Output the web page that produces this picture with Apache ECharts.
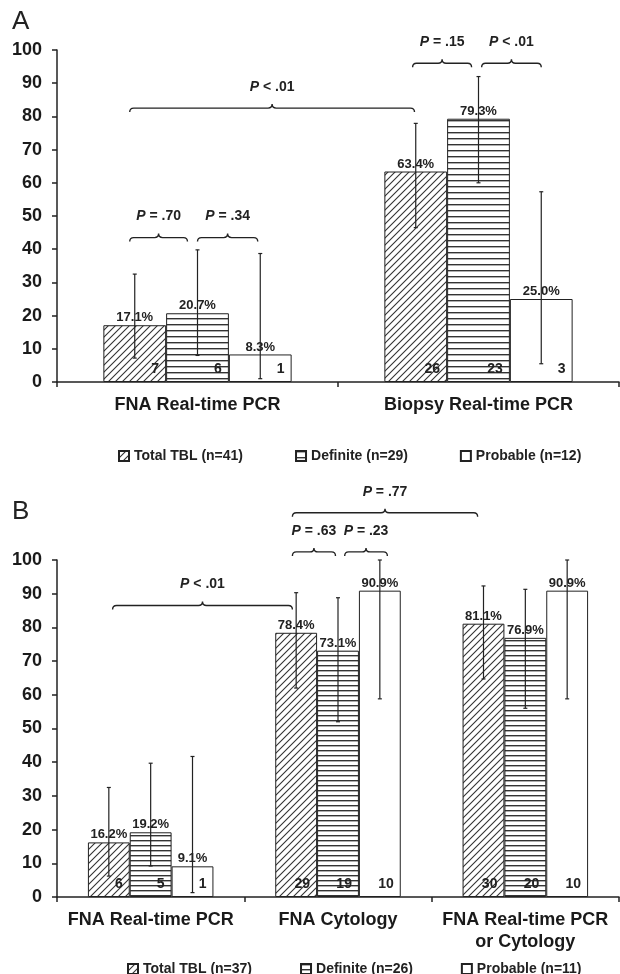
<!DOCTYPE html>
<html>
<head>
<meta charset="utf-8">
<script src="https://cdn.jsdelivr.net/npm/echarts@6/dist/echarts.min.js"></script>
<style>
html, body { margin: 0; padding: 0; background: #fff; }
#main { width: 620px; height: 974px; }
</style>
</head>
<body>
<div id="main"></div>
<script>
// ---- panel A ----
var catsA = ['FNA Real-time PCR', 'Biopsy Real-time PCR'];
var namesA = ['Total TBL (n=41)', 'Definite (n=29)', 'Probable (n=12)'];
var totalA = [17.1, 63.4];
var definiteA = [20.7, 79.3];
var probableA = [8.3, 25.0];
var totalNA = [7, 26];
var definiteNA = [6, 23];
var probableNA = [1, 3];
var totalLowA = [7.2, 46.5];
var totalHighA = [32.5, 77.9];
var definiteLowA = [8.0, 60.0];
var definiteHighA = [39.8, 92.0];
var probableLowA = [1.0, 5.5];
var probableHighA = [38.7, 57.3];
// p-value brackets: ends as [category, bar slot] and the level they sit at
var pTextA = ['P < .01', 'P = .70', 'P = .34', 'P = .15', 'P < .01'];
var pFromA = [[0, -0.08], [0, -0.08], [0, 1.0], [1, -0.05], [1, 1.05]];
var pToA = [[1, -0.02], [0, 0.84], [0, 1.96], [1, 0.89], [1, 2.0]];
var pLevelA = [82.5, 43.5, 43.5, 96, 96];

// ---- panel B ----
var catsB = ['FNA Real-time PCR', 'FNA Cytology', 'FNA Real-time PCR\nor Cytology'];
var namesB = ['Total TBL (n=37)', 'Definite (n=26)', 'Probable (n=11)'];
var totalB = [16.2, 78.4, 81.1];
var definiteB = [19.2, 73.1, 76.9];
var probableB = [9.1, 90.9, 90.9];
var totalNB = [6, 29, 30];
var definiteNB = [5, 19, 20];
var probableNB = [1, 10, 10];
var totalLowB = [6.2, 62.0, 64.7];
var totalHighB = [32.5, 90.3, 92.3];
var definiteLowB = [9.2, 52.0, 56.0];
var definiteHighB = [39.7, 88.8, 91.3];
var probableLowB = [1.3, 58.8, 58.8];
var probableHighB = [41.7, 100, 100];
var pTextB = ['P < .01', 'P = .77', 'P = .63', 'P = .23'];
var pFromB = [[0, 0.09], [1, -0.09], [1, -0.09], [1, 1.16]];
var pToB = [[1, -0.09], [2, -0.14], [1, 0.94], [1, 2.18]];
var pLevelB = [86.5, 114, 102.4, 102.4];

var FONT = '"Liberation Sans", Arial, Helvetica, sans-serif';
var INK = '#222';
var GAP = 0.33;

function diagPattern() {
    var c = document.createElement('canvas');
    c.width = 7; c.height = 7;
    var g = c.getContext('2d');
    g.fillStyle = '#fff';
    g.fillRect(0, 0, 7, 7);
    g.strokeStyle = '#333';
    g.lineWidth = 1.1;
    g.beginPath();
    g.moveTo(-1, 8); g.lineTo(8, -1);
    g.moveTo(-1, 1); g.lineTo(1, -1);
    g.moveTo(6, 8); g.lineTo(8, 6);
    g.stroke();
    return { image: c, repeat: 'repeat' };
}
function stripePattern(h) {
    var c = document.createElement('canvas');
    c.width = 4; c.height = h;
    var g = c.getContext('2d');
    g.fillStyle = '#fff';
    g.fillRect(0, 0, 4, h);
    g.fillStyle = '#333';
    g.fillRect(0, 0, 4, 1.4);
    return { image: c, repeat: 'repeat' };
}

// x pixel of bar slot k (0,1,2; may be fractional) inside category cat
function barCenter(api, cat, k) {
    var c = api.coord([cat, 0])[0];
    var bw = api.size([1, 0])[0] * (1 - GAP) / 3;
    return c + (k - 1) * bw;
}

function makeBar(name, vals, fill, gi) {
    return {
        name: name, type: 'bar', xAxisIndex: gi, yAxisIndex: gi,
        data: vals, barGap: '0%', barCategoryGap: (GAP * 100) + '%',
        itemStyle: { color: fill, borderColor: INK, borderWidth: 1 },
        label: {
            show: true, position: 'top', distance: 1,
            formatter: function (p) { return p.value.toFixed(1) + '%'; },
            fontSize: 13, fontWeight: 'bold', color: INK, fontFamily: FONT
        }
    };
}

function makeErr(lows, highs, ns, k, gi) {
    return {
        type: 'custom', xAxisIndex: gi, yAxisIndex: gi, z: 5,
        data: lows.map(function (v, i) { return [i, v, highs[i]]; }),
        encode: { x: 0, y: [1, 2] },
        renderItem: function (params, api) {
            var i = params.dataIndex;
            var x = barCenter(api, i, k);
            var bw = api.size([1, 0])[0] * (1 - GAP) / 3;
            var yLo = api.coord([i, lows[i]])[1];
            var yHi = api.coord([i, highs[i]])[1];
            var y0 = api.coord([i, 0])[1];
            function ls() { return { stroke: INK, lineWidth: 1.2 }; }
            return {
                type: 'group', children: [
                    { type: 'line', shape: { x1: x, y1: yLo, x2: x, y2: yHi }, style: ls() },
                    { type: 'line', shape: { x1: x - 2, y1: yLo, x2: x + 2, y2: yLo }, style: ls() },
                    { type: 'line', shape: { x1: x - 2, y1: yHi, x2: x + 2, y2: yHi }, style: ls() },
                    { type: 'text', x: x + bw / 2 - 7, y: y0 - 6,
                      style: { text: String(ns[i]), align: 'right', verticalAlign: 'bottom',
                               font: 'bold 14px ' + FONT, fill: INK } }
                ]
            };
        }
    };
}

function makeBrackets(texts, froms, tos, levels, gi) {
    return {
        type: 'custom', xAxisIndex: gi, yAxisIndex: gi, z: 6,
        data: levels.map(function (v) { return [0, v]; }),
        encode: { x: 0, y: 1 },
        renderItem: function (params, api) {
            var j = params.dataIndex;
            var x1 = barCenter(api, froms[j][0], froms[j][1]);
            var x2 = barCenter(api, tos[j][0], tos[j][1]);
            var y = api.coord([0, levels[j]])[1];
            var xm = (x1 + x2) / 2;
            var d = 'M' + x1 + ' ' + (y + 4) + ' Q' + x1 + ' ' + y + ' ' + (x1 + 4) + ' ' + y +
                ' L' + (xm - 4) + ' ' + y + ' Q' + xm + ' ' + y + ' ' + xm + ' ' + (y - 4) +
                ' Q' + xm + ' ' + y + ' ' + (xm + 4) + ' ' + y +
                ' L' + (x2 - 4) + ' ' + y + ' Q' + x2 + ' ' + y + ' ' + x2 + ' ' + (y + 4);
            return {
                type: 'group', children: [
                    { type: 'path', shape: { pathData: d },
                      style: { fill: 'none', stroke: INK, lineWidth: 1.4 } },
                    { type: 'text', x: xm, y: y - 21,
                      style: { text: '{i|P}' + texts[j].slice(1), align: 'center', verticalAlign: 'middle',
                               font: 'bold 14px ' + FONT, fill: INK,
                               rich: { i: { font: 'italic bold 14px ' + FONT, fontStyle: 'italic',
                                            fontWeight: 'bold', fontSize: 14, fontFamily: FONT, fill: INK } } } }
                ]
            };
        }
    };
}

function xAxisOf(cats, gi) {
    return {
        gridIndex: gi, type: 'category', data: cats,
        axisLine: { show: true, lineStyle: { color: INK, width: 1.5 } },
        axisTick: { show: true, length: 5, lineStyle: { color: INK, width: 1.5 } },
        axisLabel: { interval: 0, margin: 12, fontSize: 18, fontWeight: 'bold', color: '#1a1a1a',
                     fontFamily: FONT, lineHeight: 22 },
        splitLine: { show: false }
    };
}
function yAxisOf(gi) {
    return {
        gridIndex: gi, type: 'value', min: 0, max: 100, interval: 10,
        axisLine: { show: true, lineStyle: { color: INK, width: 1.5 } },
        axisTick: { show: true, length: 5, lineStyle: { color: INK, width: 1.5 } },
        axisLabel: { margin: 15, fontSize: 18, fontWeight: 'bold', color: '#1a1a1a', fontFamily: FONT },
        splitLine: { show: false }
    };
}
function legendOf(names, left, top, gap) {
    return {
        data: names, left: left, top: top, icon: 'rect', itemWidth: 10, itemHeight: 10, itemGap: gap,
        selectedMode: false,
        textStyle: { fontSize: 14, fontWeight: 'bold', color: INK, fontFamily: FONT }
    };
}

var diag = diagPattern();
var stripesA = stripePattern(6);
var stripesB = stripePattern(5);

var option = {
    animation: false,
    backgroundColor: '#fff',
    grid: [
        { left: 57, top: 50, width: 562, height: 332, outerBoundsMode: 'none' },
        { left: 57, top: 560, width: 562, height: 337, outerBoundsMode: 'none' }
    ],
    xAxis: [xAxisOf(catsA, 0), xAxisOf(catsB, 1)],
    yAxis: [yAxisOf(0), yAxisOf(1)],
    legend: [legendOf(namesA, 113, 444, 52), legendOf(namesB, 122, 957, 48)],
    graphic: [
        { type: 'text', left: 12, top: 9, style: { text: 'A', font: '26px ' + FONT, fill: INK } },
        { type: 'text', left: 12, top: 499, style: { text: 'B', font: '26px ' + FONT, fill: INK } }
    ],
    series: [
        makeBar(namesA[0], totalA, diag, 0),
        makeBar(namesA[1], definiteA, stripesA, 0),
        makeBar(namesA[2], probableA, '#fff', 0),
        makeErr(totalLowA, totalHighA, totalNA, 0, 0),
        makeErr(definiteLowA, definiteHighA, definiteNA, 1, 0),
        makeErr(probableLowA, probableHighA, probableNA, 2, 0),
        makeBrackets(pTextA, pFromA, pToA, pLevelA, 0),
        makeBar(namesB[0], totalB, diag, 1),
        makeBar(namesB[1], definiteB, stripesB, 1),
        makeBar(namesB[2], probableB, '#fff', 1),
        makeErr(totalLowB, totalHighB, totalNB, 0, 1),
        makeErr(definiteLowB, definiteHighB, definiteNB, 1, 1),
        makeErr(probableLowB, probableHighB, probableNB, 2, 1),
        makeBrackets(pTextB, pFromB, pToB, pLevelB, 1)
    ]
};

var chart = echarts.init(document.getElementById('main'));
chart.setOption(option);
</script>
</body>
</html>
